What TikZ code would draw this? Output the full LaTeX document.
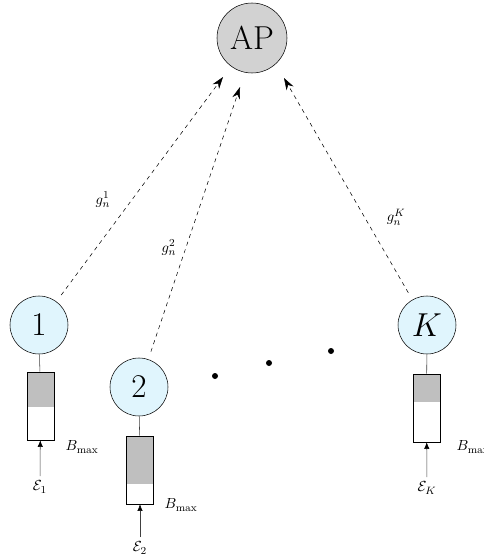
\documentclass[tikz,border=0pt]{standalone}
\usepackage{amsmath, amssymb}
\usepackage{tikz}
\usetikzlibrary{calc,arrows.meta}
\usepackage{xcolor}

\begin{document}
\begin{tikzpicture}[x=0.75pt,y=-0.75pt,
  user/.style={circle,draw,fill=cyan!12,minimum size=43.5pt,inner sep=0pt,font=\Huge},
  apnode/.style={circle,draw,fill=gray!35,minimum size=52.5pt,inner sep=0pt,font=\Huge},
  battery/.style={draw,minimum width=20.25pt,minimum height=51pt,inner sep=0pt,
    path picture={\fill[gray!50] ($(path picture bounding box.north west)!#1!(path picture bounding box.south west)$) rectangle (path picture bounding box.north east);}},
  lbl/.style={font=\fontsize{11.3}{13}\selectfont},
  link/.style={dashed,shorten <=6pt,-{Stealth[length=9pt,width=6pt]}},
  wire/.style={black!75},
  charge/.style={black!75,-{Latex[length=5pt,width=4pt,black]}},
  ellip/.style={circle,fill,inner sep=0pt,minimum size=4.5pt}
  ]
\useasboundingbox (0,0) rectangle (484,560);
\def\ya{325} 
\def\yb{387} 
% access point and users
\node[apnode] (AP) at (252,38) {AP};
\node[user] (U1) at (39,\ya) {1};
\node[user] (U2) at (139,\yb) {2};
\node[user] (UK) at (427,\ya) {$K$};
% batteries
\node[battery=0.51] (B1) at (40.5,406) {};
\node[battery=0.71] (B2) at (140,470) {};
\node[battery=0.41] (BK) at (426.5,408) {};
\draw[wire] (U1) -- (B1);
\draw[wire] (U2) -- (B2);
\draw[wire] (UK) -- (BK);
\node[lbl,anchor=west] (M1) at (61,447) {$B_{\max}$};
\node[lbl,anchor=west] (M2) at (160,505) {$B_{\max}$};
\node[lbl,anchor=west] (MK) at (452,447) {$B_{\max}$};
% energy arrivals
\node[lbl] (E1) at (40,487) {$\mathcal{E}_1$};
\node[lbl] (E2) at (140,548) {$\mathcal{E}_2$};
\node[lbl] (EK) at (427,488) {$\mathcal{E}_K$};
\draw[charge] (E1) -- (B1);
\draw[charge] (E2) -- (B2);
\draw[charge] (EK) -- (BK);
% channels
\coordinate (T1) at (223,77);
\coordinate (T2) at (240,87);
\coordinate (TK) at (284,78);
\draw[link] (U1) -- (T1);
\draw[link] (U2) -- (T2);
\draw[link] (UK) -- (TK);
\node[lbl] (G1) at (103,200) {$g_n^1$};
\node[lbl] (G2) at (169,248) {$g_n^2$};
\node[lbl] (GK) at (396,217) {$g_n^K$};
% dots
\node[ellip] (D1) at (215,376) {};
\node[ellip] (D2) at (269,363) {};
\node[ellip] (D3) at (331,351) {};
\end{tikzpicture}
\end{document}
